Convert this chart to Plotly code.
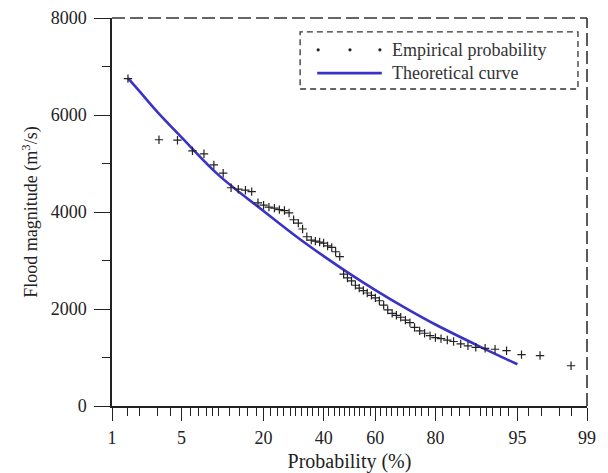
from statistics import NormalDist
import plotly.graph_objects as go

# Empirical plotting positions (%) and observed flood peaks (m3/s)
empirical_prob = [
    1.5, 3.1, 4.6, 6.2, 7.7, 9.2, 10.8, 12.3, 13.8, 15.4, 16.9, 18.5, 20.0,
    21.5, 23.1, 24.6, 26.2, 27.7, 29.2, 30.8, 32.3, 33.8, 35.4, 36.9, 38.5,
    40.0, 41.5, 43.1, 44.6, 46.2, 47.7, 49.2, 50.8, 52.3, 53.8, 55.4, 56.9,
    58.5, 60.0, 61.5, 63.1, 64.6, 66.2, 67.7, 69.2, 70.8, 72.3, 73.8, 75.4,
    76.9, 78.5, 80.0, 81.5, 83.1, 84.6, 86.2, 87.7, 89.2, 90.8, 92.3, 93.8,
    95.4, 96.9, 98.5,
]
empirical_flow = [
    6750, 5490, 5480, 5260, 5200, 4970, 4800, 4500, 4470, 4450, 4420, 4190,
    4140, 4100, 4080, 4050, 4030, 3980, 3840, 3770, 3650, 3490, 3420, 3400,
    3380, 3360, 3300, 3270, 3180, 3080, 2720, 2640, 2580, 2490, 2430, 2380,
    2330, 2280, 2230, 2170, 2080, 1980, 1910, 1870, 1830, 1770, 1720, 1620,
    1550, 1500, 1450, 1410, 1390, 1360, 1330, 1280, 1240, 1210, 1190, 1170,
    1140, 1060, 1040, 830,
]

# Fitted frequency curve
curve_prob = [1.5, 2, 3, 5, 10, 20, 30, 40, 50, 60, 70, 80, 90, 95]
curve_flow = [6760, 6480, 6060, 5540, 4760, 4020, 3500, 3090, 2730, 2390,
              2050, 1680, 1220, 860]

# Probability-paper axis ticks (%)
major_ticks = [1, 5, 20, 40, 60, 80, 95, 99]
minor_ticks = ([1.5, 2, 3, 4, 6, 7, 8, 9, 10] + list(range(12, 20, 2))
               + list(range(22, 40, 2)) + list(range(42, 60, 2))
               + list(range(62, 80, 2)) + list(range(82, 90, 2))
               + [90, 91, 92, 93, 94, 96, 97, 98, 98.5])

nd = NormalDist()


def to_z(p):
    return nd.inv_cdf(p / 100.0)


FONT = "Liberation Serif"
INK = "#222222"
CURVE = "#3a32c8"

fig = go.Figure()

fig.add_trace(go.Scatter(
    x=[to_z(p) for p in curve_prob], y=curve_flow,
    mode="lines", line=dict(color=CURVE, width=2.6, shape="spline"),
    name="Theoretical curve", hoverinfo="skip",
))

fig.add_trace(go.Scatter(
    x=[to_z(p) for p in empirical_prob], y=empirical_flow,
    mode="markers",
    marker=dict(symbol="cross-thin", size=6, line=dict(color=INK, width=1.2)),
    name="Empirical probability",
))

fig.update_layout(
    width=608, height=473,
    margin=dict(l=112, r=21, t=18, b=67),
    plot_bgcolor="white", paper_bgcolor="white",
    showlegend=False,
    font=dict(family=FONT, color=INK),
)

fig.update_xaxes(
    automargin=False,
    range=[to_z(1), to_z(99)],
    tickmode="array",
    tickvals=[to_z(p) for p in major_ticks],
    ticktext=[str(p) for p in major_ticks],
    ticks="outside", ticklen=13, tickwidth=1.4, tickcolor=INK,
    ticklabelstandoff=2,
    tickfont=dict(size=18, family=FONT, color=INK),
    showline=True, linecolor=INK, linewidth=1.5,
    showgrid=False, zeroline=False,
    minor=dict(tickmode="array", tickvals=[to_z(p) for p in minor_ticks],
               ticks="outside", ticklen=8, tickwidth=1.2, tickcolor=INK,
               showgrid=False),
    title=dict(text="Probability (%)", font=dict(size=20, family=FONT, color=INK),
               standoff=9),
)

fig.update_yaxes(
    automargin=False,
    range=[0, 8000], dtick=2000,
    ticks="outside", ticklen=16, tickwidth=1.4, tickcolor=INK,
    ticklabelstandoff=4,
    tickfont=dict(size=18, family=FONT, color=INK),
    showline=True, linecolor=INK, linewidth=1.5,
    showgrid=False, zeroline=False,
    minor=dict(dtick=1000, ticks="outside", ticklen=8, tickwidth=1.2,
               tickcolor=INK, showgrid=False),
    title=dict(text="Flood magnitude (m<sup>3</sup>/s)",
               font=dict(size=18, family=FONT, color=INK), standoff=8),
)

# Dashed frame on top and right
frame = dict(color="#333333", width=1.6, dash="13px,5px")
fig.add_shape(type="line", xref="paper", yref="paper", x0=0, x1=1, y0=1, y1=1,
              line=frame)
fig.add_shape(type="line", xref="paper", yref="paper", x0=1, x1=1, y0=0, y1=1,
              line=frame)

# Legend box with dashed outline
fig.add_shape(type="rect", xref="paper", yref="paper",
              x0=0.396, x1=0.981, y0=0.817, y1=0.964,
              line=dict(color="#333333", width=1.3, dash="6px,4px"),
              fillcolor="white", layer="above")
for xc in [0.434, 0.501, 0.564]:
    fig.add_shape(type="circle", xref="paper", yref="paper",
                  x0=xc - 0.0034, x1=xc + 0.0034,
                  y0=0.918 - 0.0042, y1=0.918 + 0.0042,
                  fillcolor=INK, line=dict(width=0), layer="above")
fig.add_shape(type="line", xref="paper", yref="paper",
              x0=0.432, x1=0.568, y0=0.858, y1=0.858,
              line=dict(color=CURVE, width=2.6), layer="above")
fig.add_annotation(text="Empirical probability", xref="paper", yref="paper",
                   x=0.585, y=0.918, xanchor="left", yanchor="middle",
                   showarrow=False, font=dict(size=18, family=FONT, color="#333333"))
fig.add_annotation(text="Theoretical curve", xref="paper", yref="paper",
                   x=0.585, y=0.858, xanchor="left", yanchor="middle",
                   showarrow=False, font=dict(size=18, family=FONT, color="#333333"))

fig.write_html("out.html")
